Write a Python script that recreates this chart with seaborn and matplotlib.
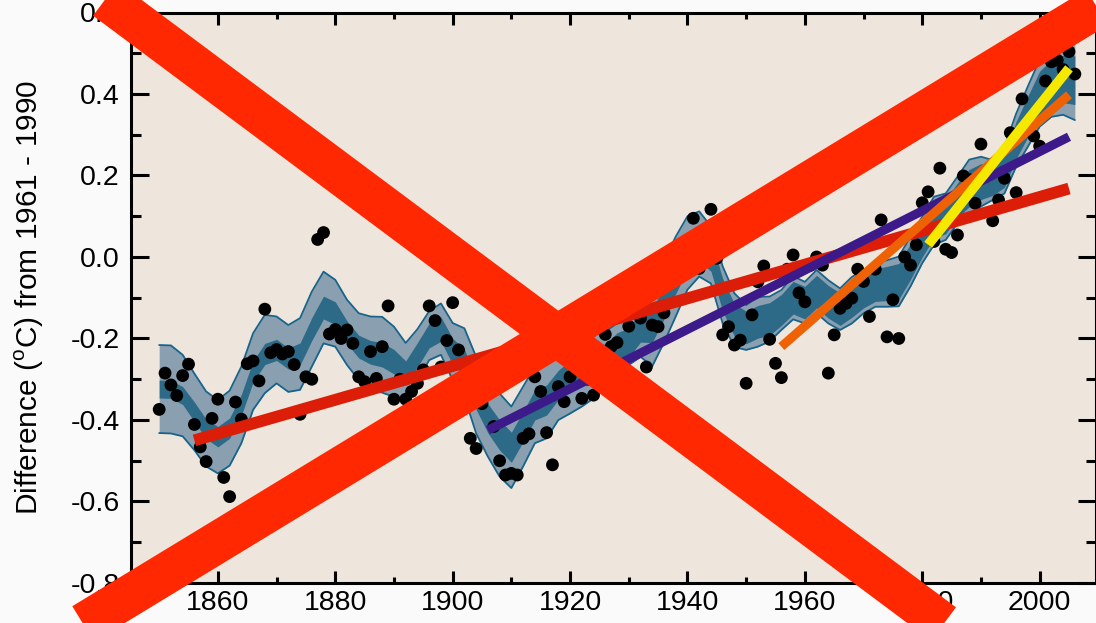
import numpy as np
import pandas as pd
import matplotlib
matplotlib.use("Agg")
from matplotlib import pyplot as plt
from matplotlib.lines import Line2D
from matplotlib.ticker import MultipleLocator
import seaborn as sns

# Annual global temperature anomaly (deg C, relative to 1961-1990)
years = list(range(1850, 2007))
anomaly = [
    -0.374, -0.285, -0.314, -0.340, -0.291, -0.263, -0.411, -0.466, -0.502, -0.396,  # 1850s
    -0.349, -0.541, -0.588, -0.356, -0.398, -0.262, -0.255, -0.304, -0.128, -0.235,  # 1860s
    -0.227, -0.238, -0.232, -0.264, -0.386, -0.294, -0.300, 0.043, 0.060, -0.189,    # 1870s
    -0.178, -0.200, -0.179, -0.212, -0.294, -0.306, -0.232, -0.298, -0.220, -0.120,  # 1880s
    -0.349, -0.300, -0.349, -0.330, -0.310, -0.277, -0.120, -0.156, -0.270, -0.205,  # 1890s
    -0.112, -0.228, -0.300, -0.445, -0.470, -0.360, -0.330, -0.416, -0.500, -0.535,  # 1900s
    -0.531, -0.535, -0.445, -0.434, -0.294, -0.330, -0.431, -0.510, -0.318, -0.355,  # 1910s
    -0.294, -0.250, -0.347, -0.300, -0.339, -0.270, -0.190, -0.220, -0.210, -0.300,  # 1920s
    -0.170, -0.120, -0.150, -0.270, -0.167, -0.171, -0.137, -0.050, -0.030, -0.040,  # 1930s
    0.000, 0.095, -0.028, 0.000, 0.117, -0.003, -0.191, -0.171, -0.216, -0.204,      # 1940s
    -0.310, -0.142, -0.061, -0.022, -0.202, -0.261, -0.296, -0.030, 0.005, -0.088,   # 1950s
    -0.110, -0.020, 0.000, -0.020, -0.285, -0.191, -0.126, -0.114, -0.101, -0.030,   # 1960s
    -0.060, -0.146, -0.030, 0.091, -0.196, -0.105, -0.200, 0.000, -0.020, 0.030,     # 1970s
    0.133, 0.160, 0.038, 0.218, 0.019, 0.011, 0.054, 0.199, 0.190, 0.132,           # 1980s
    0.277, 0.200, 0.089, 0.140, 0.193, 0.305, 0.158, 0.388, 0.540, 0.297,           # 1990s
    0.272, 0.432, 0.479, 0.483, 0.460, 0.504, 0.449,                                # 2000s
]

# Smoothed decadal curve with uncertainty ranges, read every 2 years
band_years = list(range(1850, 2007, 2))
band_mid = [
    -0.324, -0.325, -0.340, -0.380, -0.422, -0.441, -0.420, -0.363, -0.281, -0.238,
    -0.228, -0.249, -0.238, -0.177, -0.124, -0.138, -0.185, -0.220, -0.234, -0.240,
    -0.257, -0.285, -0.240, -0.193, -0.177, -0.232, -0.259, -0.339, -0.396, -0.437,
    -0.467, -0.416, -0.363, -0.351, -0.314, -0.290, -0.265, -0.249, -0.250, -0.222,
    -0.210, -0.171, -0.170, -0.110, -0.048, 0.010, 0.032, 0.005, -0.093, -0.155,
    -0.173, -0.159, -0.152, -0.130, -0.100, -0.112, -0.085, -0.110, -0.128, -0.106,
    -0.085, -0.069, -0.065, -0.060, -0.011, 0.042, 0.089, 0.099, 0.140, 0.169,
    0.185, 0.189, 0.213, 0.287, 0.345, 0.402, 0.428, 0.437, 0.434,
]
band_outer = [
    0.108, 0.108, 0.100, 0.094, 0.092, 0.090, 0.092, 0.094, 0.094, 0.096,
    0.082, 0.082, 0.088, 0.092, 0.088, 0.082, 0.080, 0.082, 0.088, 0.093,
    0.086, 0.074, 0.063, 0.060, 0.063, 0.070, 0.084, 0.094, 0.094, 0.102,
    0.100, 0.098, 0.094, 0.094, 0.086, 0.094, 0.102, 0.098, 0.067, 0.059,
    0.055, 0.074, 0.098, 0.100, 0.098, 0.090, 0.080, 0.070, 0.070, 0.066,
    0.055, 0.061, 0.055, 0.049, 0.053, 0.051, 0.053, 0.053, 0.051, 0.057,
    0.053, 0.053, 0.057, 0.061, 0.061, 0.057, 0.059, 0.057, 0.057, 0.070,
    0.061, 0.049, 0.057, 0.065, 0.074, 0.082, 0.084, 0.088, 0.098,
]
band_inner = [
    0.022, 0.022, 0.022, 0.024, 0.024, 0.025, 0.025, 0.026, 0.026, 0.026,
    0.026, 0.026, 0.027, 0.028, 0.028, 0.028, 0.028, 0.028, 0.029, 0.030,
    0.030, 0.030, 0.030, 0.030, 0.030, 0.032, 0.033, 0.035, 0.036, 0.037,
    0.037, 0.037, 0.037, 0.037, 0.036, 0.036, 0.036, 0.036, 0.036, 0.036,
    0.036, 0.038, 0.040, 0.042, 0.042, 0.042, 0.042, 0.040, 0.040, 0.040,
    0.040, 0.040, 0.040, 0.038, 0.040, 0.040, 0.040, 0.040, 0.040, 0.042,
    0.040, 0.040, 0.042, 0.044, 0.044, 0.042, 0.042, 0.042, 0.042, 0.046,
    0.044, 0.038, 0.042, 0.046, 0.050, 0.054, 0.056, 0.058, 0.060,
]

# Linear trends (period start/end and fitted values at the ends)
trend_start = [1856, 1906, 1956, 1981]
trend_end = [2005, 2005, 2005, 2005]
trend_start_val = [-0.450, -0.425, -0.220, 0.030]
trend_end_val = [0.168, 0.295, 0.398, 0.463]
trend_colors = ["#dc1e08", "#3c1a8a", "#ee6205", "#f6e900"]
trend_widths = [8.5, 6.5, 6.5, 7.0]

# Big red cross overlay, in image pixels (x, y from top-left)
cross_a = [(-50, -117), (1150, 778)]
cross_b = [(-50, 705), (1150, -25)]

W, H = 1096, 623

sns.set_theme(style="ticks")
plt.rcParams["font.family"] = ["Liberation Sans", "DejaVu Sans"]

fig = plt.figure(figsize=(W / 100, H / 100), dpi=100, facecolor="#fafafa")
ax = fig.add_axes([131 / W, 40 / H, (W - 131) / W, 570.5 / H])
ax.set_facecolor("#eee6dc")

bx = np.array(band_years)
mid = np.array(band_mid)
outer = np.array(band_outer)
inner = np.array(band_inner)
ax.fill_between(bx, mid - outer, mid + outer, color="#8aa0b0", lw=0, zorder=1)
ax.fill_between(bx, mid - inner, mid + inner, color="#2d6a88", lw=0, zorder=1.1)
ax.plot(bx, mid + outer, color="#17648a", lw=1.3, zorder=1.2)
ax.plot(bx, mid - outer, color="#17648a", lw=1.3, zorder=1.2)

df = pd.DataFrame({"year": years, "anomaly": anomaly})
sns.scatterplot(data=df, x="year", y="anomaly", color="black", s=85,
                edgecolor="none", ax=ax, zorder=3)

for i in range(len(trend_start)):
    tdf = pd.DataFrame({"year": [trend_start[i], trend_end[i]],
                        "value": [trend_start_val[i], trend_end_val[i]]})
    sns.lineplot(data=tdf, x="year", y="value", color=trend_colors[i],
                 lw=trend_widths[i], solid_capstyle="butt", ax=ax, zorder=4 + i)

ax.set_xlim(1845.2, 2009.6)
ax.set_ylim(-0.8, 0.6)
ax.xaxis.set_major_locator(MultipleLocator(20))
ax.xaxis.set_minor_locator(MultipleLocator(10))
ax.yaxis.set_major_locator(MultipleLocator(0.2))
ax.yaxis.set_minor_locator(MultipleLocator(0.1))
ax.yaxis.set_major_formatter(matplotlib.ticker.FormatStrFormatter("%.1f"))

ax.tick_params(which="both", direction="in", top=True, right=True,
               width=2.2, color="black", labelsize=20.5, labelcolor="black")
ax.tick_params(axis="x", which="major", length=8.5, pad=5)
ax.tick_params(axis="x", which="minor", length=4.5)
ax.tick_params(axis="y", which="major", length=13, pad=8)
ax.tick_params(axis="y", which="minor", length=7)
for s in ax.spines.values():
    s.set_linewidth(2.2)
    s.set_color("black")

ax.set_xlabel("")
ax.set_ylabel("Difference ($^{\\mathregular{o}}$C) from 1961 - 1990",
              fontsize=21.5, labelpad=18, color="black")

for (x0, y0), (x1, y1) in [cross_a, cross_b]:
    fig.add_artist(Line2D([x0 / W, x1 / W], [1 - y0 / H, 1 - y1 / H],
                          transform=fig.transFigure, color="#ff2800", lw=30,
                          solid_capstyle="butt", zorder=20))

fig.savefig("out.png", dpi=100, facecolor=fig.get_facecolor())
